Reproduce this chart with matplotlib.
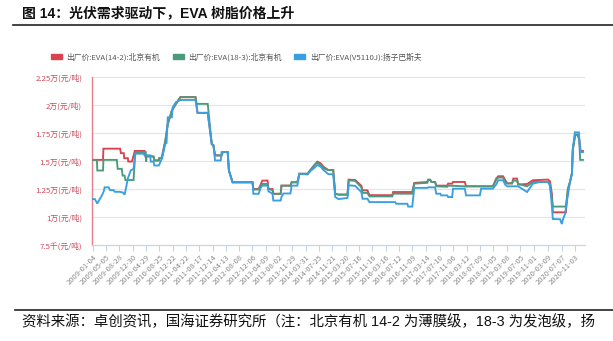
import matplotlib
matplotlib.use('Agg')
import matplotlib.pyplot as plt
import matplotlib.patches as mpatches
from matplotlib.lines import Line2D
import pandas as pd

plt.rcParams['font.family'] = ['Noto Sans CJK SC', 'DejaVu Sans']

title = '图 14：光伏需求驱动下，EVA 树脂价格上升'
source = '资料来源：卓创资讯，国海证券研究所（注：北京有机 14-2 为薄膜级，18-3 为发泡级，扬'
series_names = ['出厂价:EVA(14-2):北京有机', '出厂价:EVA(18-3):北京有机', '出厂价:EVA(V5110J):扬子巴斯夫']
series_colors = ['#d9434f', '#4c9a7c', '#3a9fe0']

tick_dates = ['2009-01-04', '2009-05-05', '2009-08-28', '2009-12-30', '2010-04-29', '2010-08-25',
              '2010-12-22', '2011-04-22', '2011-08-17', '2011-12-14', '2012-04-13', '2012-08-08',
              '2012-12-06', '2013-04-09', '2013-08-02', '2013-11-29', '2014-03-31', '2014-07-25',
              '2014-11-21', '2015-03-20', '2015-07-16', '2015-11-16', '2016-03-16', '2016-07-12',
              '2016-11-09', '2017-03-14', '2017-07-10', '2017-11-06', '2018-03-12', '2018-07-09',
              '2018-11-05', '2019-03-08', '2019-07-05', '2019-11-01', '2020-03-09', '2020-07-07',
              '2020-11-03']
ytick_values = [7500, 10000, 12500, 15000, 17500, 20000, 22500]
ytick_labels = ['7.5千(元/吨)', '1万(元/吨)', '1.25万(元/吨)', '1.5万(元/吨)',
                '1.75万(元/吨)', '2万(元/吨)', '2.25万(元/吨)']

# time in decimal years, price in 元/吨
red_t = [2009.00, 2009.26, 2009.27, 2009.68, 2009.70, 2009.77, 2009.78, 2009.87, 2009.88, 2009.97,
         2010.04, 2010.28, 2010.30, 2010.50, 2010.52, 2010.63, 2010.64, 2010.70, 2010.79, 2010.85,
         2010.95, 2011.05, 2011.16, 2011.53, 2011.58, 2011.83, 2011.93, 2011.97, 2012.01, 2012.17,
         2012.20, 2012.32, 2012.35, 2012.44, 2012.93, 2012.95, 2013.08, 2013.13, 2013.17, 2013.30,
         2013.32, 2013.42, 2013.44, 2013.62, 2013.64, 2013.86, 2013.89, 2014.03, 2014.08, 2014.28,
         2014.35, 2014.45, 2014.52, 2014.60, 2014.67, 2014.79, 2014.91, 2014.96, 2015.04, 2015.26,
         2015.29, 2015.45, 2015.60, 2015.63, 2015.75, 2015.80, 2016.36, 2016.38, 2016.85, 2016.90,
         2017.22, 2017.24, 2017.29, 2017.32, 2017.41, 2017.44, 2017.71, 2017.73, 2017.83, 2017.85,
         2018.14, 2018.17, 2018.83, 2018.91, 2018.96, 2019.08, 2019.13, 2019.18, 2019.30, 2019.33,
         2019.42, 2019.45, 2019.67, 2019.81, 2020.18, 2020.23, 2020.28, 2020.30, 2020.62, 2020.67,
         2020.72, 2020.77, 2020.79, 2020.85, 2020.91, 2020.95, 2020.97, 2021.04]
red_v = [15100, 15100, 16100, 16100, 15700, 15700, 15250, 15250, 14950, 14950,
         15900, 15900, 15400, 15400, 15050, 15050, 15250, 15250, 16800, 18300,
         19500, 20100, 20700, 20700, 19300, 19300, 16500, 16400, 15500, 15500,
         15800, 15800, 14150, 13100, 13100, 12500, 12500, 12900, 13250, 13250,
         12500, 12500, 12070, 12070, 12800, 12800, 13100, 13100, 13860, 13860,
         14190, 14640, 14940, 14800, 14490, 14190, 14190, 12080, 12000, 12000,
         13340, 13300, 12800, 12380, 12380, 11950, 11950, 12230, 12230, 13040,
         13130, 13300, 13300, 13130, 13130, 12800, 12800, 12980, 12980, 13130,
         13130, 12740, 12740, 13430, 13640, 13640, 13300, 13000, 13000, 13430,
         13430, 12900, 12950, 13280, 13340, 13200, 12000, 10420, 10420, 12500,
         13100, 13900, 16000, 17350, 17350, 16900, 15900, 15900]

green_t = [2009.00, 2009.11, 2009.12, 2009.26, 2009.27, 2009.60, 2009.62, 2009.72, 2009.74, 2009.79,
           2009.81, 2010.01, 2010.05, 2010.08, 2010.31, 2010.32, 2010.33, 2010.50, 2010.52, 2010.63,
           2010.64, 2010.70, 2010.79, 2010.85, 2010.95, 2011.05, 2011.16, 2011.53, 2011.56, 2011.83,
           2011.93, 2011.97, 2012.01, 2012.17, 2012.20, 2012.32, 2012.35, 2012.44, 2012.93, 2012.95,
           2013.08, 2013.13, 2013.17, 2013.30, 2013.32, 2013.42, 2013.44, 2013.62, 2013.64, 2013.86,
           2013.89, 2014.03, 2014.08, 2014.28, 2014.35, 2014.45, 2014.52, 2014.60, 2014.67, 2014.79,
           2014.91, 2014.96, 2015.04, 2015.26, 2015.29, 2015.45, 2015.60, 2015.63, 2015.75, 2015.80,
           2016.36, 2016.38, 2016.85, 2016.90, 2017.22, 2017.24, 2017.29, 2017.32, 2017.41, 2017.44,
           2017.71, 2017.73, 2018.14, 2018.83, 2018.91, 2018.96, 2019.08, 2019.13, 2019.18, 2019.30,
           2019.33, 2019.42, 2019.45, 2019.67, 2019.81, 2020.18, 2020.23, 2020.28, 2020.30, 2020.62,
           2020.67, 2020.72, 2020.77, 2020.79, 2020.85, 2020.91, 2020.95, 2020.97, 2021.04]
green_v = [15100, 15100, 14150, 14150, 15100, 15100, 14300, 14300, 13700, 13700,
           13300, 13300, 15650, 15800, 15800, 14950, 15500, 15400, 15050, 15050,
           15250, 15250, 16800, 18300, 19500, 20100, 20700, 20700, 20100, 20100,
           16500, 16400, 15500, 15500, 15800, 15800, 14150, 13100, 13100, 12450,
           12450, 12800, 12950, 12950, 12500, 12400, 12070, 12070, 12800, 12800,
           13100, 13100, 13860, 13860, 14190, 14640, 14850, 14640, 14340, 14190,
           14190, 12080, 12000, 12000, 13280, 13220, 12650, 12150, 12150, 11840,
           11840, 12080, 12080, 12980, 13050, 13340, 13340, 13130, 13130, 12740,
           12700, 12800, 12740, 12740, 13340, 13520, 13520, 13100, 13000, 13000,
           13250, 13250, 12950, 12740, 13130, 13130, 12950, 11500, 10930, 10930,
           12500, 13100, 13900, 16000, 17350, 17350, 16900, 15100, 15100]

blue_t = [2009.00, 2009.06, 2009.12, 2009.18, 2009.23, 2009.28, 2009.30, 2009.40, 2009.43, 2009.52,
          2009.55, 2009.67, 2009.74, 2009.79, 2009.82, 2009.87, 2009.94, 2010.01, 2010.05, 2010.26,
          2010.28, 2010.42, 2010.43, 2010.50, 2010.52, 2010.63, 2010.71, 2010.79, 2010.82, 2010.85,
          2010.95, 2010.97, 2011.05, 2011.16, 2011.53, 2011.58, 2011.83, 2011.93, 2011.97, 2012.01,
          2012.15, 2012.17, 2012.32, 2012.35, 2012.44, 2012.93, 2012.95, 2013.08, 2013.13, 2013.17,
          2013.30, 2013.32, 2013.42, 2013.44, 2013.62, 2013.64, 2013.69, 2013.86, 2013.89, 2014.03,
          2014.08, 2014.28, 2014.35, 2014.45, 2014.52, 2014.60, 2014.67, 2014.79, 2014.91, 2014.96,
          2015.04, 2015.26, 2015.29, 2015.45, 2015.60, 2015.63, 2015.75, 2015.80, 2016.43, 2016.46,
          2016.73, 2016.75, 2016.85, 2016.90, 2017.22, 2017.24, 2017.41, 2017.44, 2017.54, 2017.56,
          2017.71, 2017.73, 2017.83, 2017.85, 2018.14, 2018.17, 2018.51, 2018.54, 2018.83, 2018.91,
          2018.96, 2019.08, 2019.13, 2019.18, 2019.45, 2019.67, 2019.81, 2019.99, 2020.18, 2020.23,
          2020.28, 2020.30, 2020.48, 2020.52, 2020.55, 2020.60, 2020.65, 2020.72, 2020.77, 2020.79,
          2020.84, 2020.94, 2020.96, 2020.99, 2021.04]
blue_v = [11600, 11600, 11200, 11600, 11900, 12300, 12650, 12650, 12400, 12400,
          12250, 12250, 12200, 12000, 12500, 13450, 14150, 14300, 15650, 15650,
          15500, 15500, 14950, 14950, 14600, 14600, 15250, 16550, 16600, 18900,
          18900, 19800, 20250, 20450, 20450, 19300, 19300, 16500, 16400, 15050,
          15050, 15800, 15800, 14150, 13100, 13100, 12070, 12070, 12600, 12800,
          12800, 12300, 12070, 11470, 11470, 11800, 12100, 12100, 12800, 12800,
          13860, 13800, 14100, 14400, 14640, 14500, 14200, 13820, 13820, 11780,
          11600, 11700, 12830, 12780, 12230, 11630, 11630, 11330, 11330, 11180,
          11180, 10930, 10930, 12600, 12600, 12650, 12650, 12080, 12080, 11930,
          11930, 11780, 11780, 12530, 12530, 11930, 11930, 12530, 12530, 12900,
          13280, 13280, 12900, 12740, 12740, 12230, 12980, 13130, 13130, 12800,
          10880, 9820, 9800, 9370, 9800, 10270, 11500, 13100, 13900, 16000,
          17560, 17560, 16500, 15800, 15800]


def decimal_year(s):
    ts = pd.Timestamp(s)
    days = 366 if ts.is_leap_year else 365
    return ts.year + (ts.dayofyear - 1) / days


W, H = 613, 341
fig = plt.figure(figsize=(W / 100, H / 100), dpi=100)
ax = fig.add_axes([92 / W, 1 - 245 / H, (585 - 92) / W, (245 - 77) / H])

for t, v, c in zip([red_t, green_t, blue_t], [red_v, green_v, blue_v], series_colors):
    ax.plot(t, v, color=c, lw=1.35, solid_joinstyle='miter', zorder=3)

ax.set_xlim(2008.99, 2021.09)
ax.set_ylim(7500, 22500)
ax.set_yticks(ytick_values)
ax.set_yticklabels(ytick_labels, fontsize=5.6, color='#d0485a')
ax.tick_params(axis='y', length=0, pad=7)
for yv in ytick_values[1:]:
    ax.axhline(yv, color='#e4e4e4', lw=0.8, zorder=1)

ax.set_xticks([decimal_year(d) for d in tick_dates])
ax.set_xticklabels(tick_dates, rotation=45, ha='right', rotation_mode='anchor',
                   fontsize=5.4, color='#8a8a8a')
ax.tick_params(axis='x', length=4, width=0.8, color='#c9d3e3', pad=2)

for s in ['top', 'right']:
    ax.spines[s].set_visible(False)
ax.spines['left'].set_color('#e77f8a')
ax.spines['left'].set_linewidth(1.0)
ax.spines['bottom'].set_color('#c9d3e3')
ax.spines['bottom'].set_linewidth(0.9)

handles = [mpatches.Patch(color=c, label=n) for c, n in zip(series_colors, series_names)]
fig.legend(handles=handles, loc='center left', bbox_to_anchor=(44 / W, 1 - 57 / H), ncol=3,
           frameon=False, fontsize=5.6, handlelength=1.4, handleheight=0.65,
           handletextpad=0.6, columnspacing=1.6, labelcolor='#555555')

fig.text(22 / W, 1 - 13 / H, title, fontsize=10, fontweight='bold',
         family=['Liberation Sans', 'Noto Sans CJK SC'], va='center', ha='left', color='#111111')
fig.add_artist(Line2D([13 / W, 1.0], [1 - 25 / H, 1 - 25 / H], color='#222222', lw=1.2))
fig.add_artist(Line2D([15 / W, 1.0], [1 - 310 / H, 1 - 310 / H], color='#222222', lw=1.2))
fig.text(22 / W, 1 - 322 / H, source, fontsize=10.4,
         family=['Liberation Sans', 'Noto Sans CJK SC'], va='center', ha='left', color='#111111')

fig.savefig('out.png', dpi=100, facecolor='white')
